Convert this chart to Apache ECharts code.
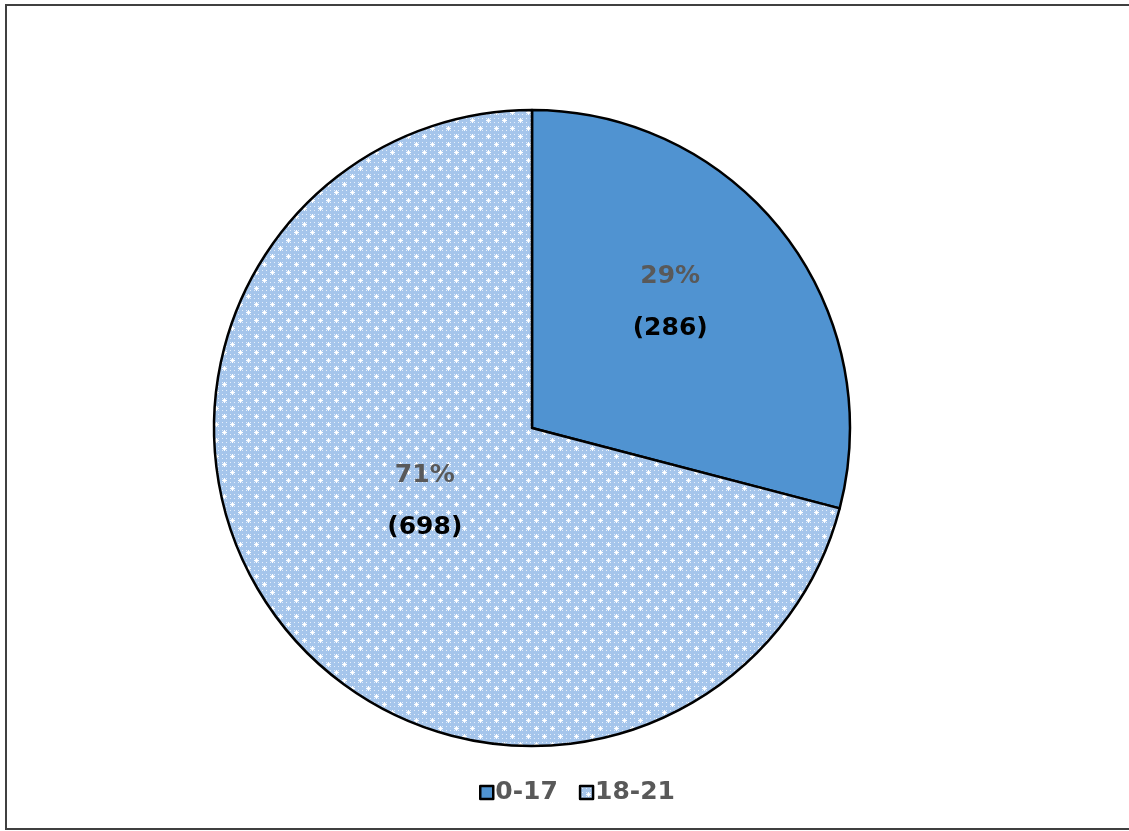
<!DOCTYPE html>
<html>
<head>
<meta charset="utf-8">
<script src="https://cdn.jsdelivr.net/npm/echarts@6/dist/echarts.min.js"></script>
<style>
  html, body { margin: 0; padding: 0; background: #ffffff; }
  #chart { width: 1129px; height: 831px; }
</style>
</head>
<body>
<div id="chart"></div>
<script>
// Age groups and counts
const categories = ['0-17', '18-21'];
const counts = [286, 698];

// Dotted light-blue fill for the 18-21 slice
function makeDotPattern() {
  const S = 16;
  const c = document.createElement('canvas');
  c.width = S; c.height = S;
  const g = c.getContext('2d');
  g.fillStyle = '#a5c5eb';
  g.fillRect(0, 0, S, S);
  const px = (x, y, col) => {
    g.fillStyle = col;
    g.fillRect(((x % S) + S) % S, ((y % S) + S) % S, 1, 1);
  };
  // small pale dots on a 4px grid
  for (let y = 0; y < S; y += 4) {
    for (let x = 0; x < S; x += 4) {
      px(x + 2, y + 2, '#e4eefb');
    }
  }
  // white crosses on a diagonal lattice
  [[0, 0], [8, 8]].forEach(([cx, cy]) => {
    for (let d = -2; d <= 2; d++) {
      px(cx + d, cy, '#ffffff');
      px(cx, cy + d, '#ffffff');
    }
    px(cx - 1, cy - 1, '#e8f0fb'); px(cx + 1, cy - 1, '#e8f0fb');
    px(cx - 1, cy + 1, '#e8f0fb'); px(cx + 1, cy + 1, '#e8f0fb');
  });
  return c;
}

const sliceColors = [
  '#5093d1',
  { image: makeDotPattern(), repeat: 'repeat' }
];

// nudges for the inside labels
const labelShift = [[10, -26], [21, -26]];

const chart = echarts.init(document.getElementById('chart'), null, { renderer: 'canvas' });

chart.setOption({
  animation: false,
  graphic: [{
    type: 'rect',
    shape: { x: 6, y: 5, width: 1140, height: 824 },
    style: { fill: 'none', stroke: '#404040', lineWidth: 2 },
    silent: true
  }],
  legend: {
    bottom: 21,
    left: 474,
    itemWidth: 13,
    itemHeight: 13,
    itemGap: 21,
    icon: 'rect',
    textStyle: {
      fontFamily: 'DejaVu Sans',
      fontWeight: 'bold',
      fontSize: 25,
      color: '#595959',
      padding: [0, 0, 0, -3]
    },
    itemStyle: { borderColor: '#000', borderWidth: 2.5 },
    data: categories
  },
  series: [{
    type: 'pie',
    center: [532, 428],
    radius: 318,
    startAngle: 90,
    clockwise: true,
    itemStyle: { borderColor: '#000000', borderWidth: 2.5 },
    label: {
      position: 'inside',
      formatter: p => '{p|' + Math.round(p.percent) + '%}\n{v|(' + p.value + ')}',
      rich: {
        p: { fontFamily: 'DejaVu Sans', fontWeight: 'bold', fontSize: 25, color: '#595959', lineHeight: 52 },
        v: { fontFamily: 'DejaVu Sans', fontWeight: 'bold', fontSize: 25, color: '#000000', lineHeight: 52 }
      }
    },
    labelLayout: p => ({ dx: labelShift[p.dataIndex][0], dy: labelShift[p.dataIndex][1] }),
    labelLine: { show: false },
    emphasis: { disabled: true },
    data: categories.map((name, i) => ({
      name: name,
      value: counts[i],
      itemStyle: { color: sliceColors[i] }
    }))
  }]
});
</script>
</body>
</html>
